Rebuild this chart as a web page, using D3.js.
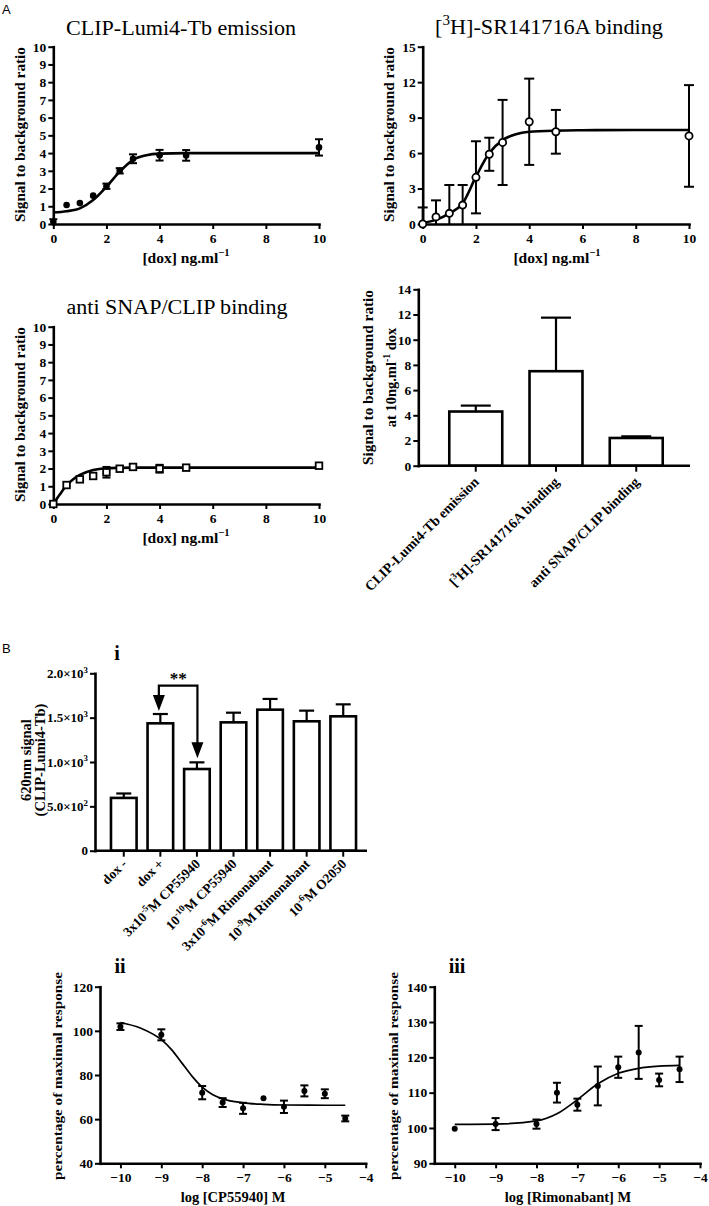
<!DOCTYPE html>
<html><head><meta charset="utf-8">
<script src="https://cdn.jsdelivr.net/npm/d3@7/dist/d3.min.js"></script>
<style>
body{margin:0;background:#fff}
svg{display:block}
</style>
</head><body>
<svg id="c" width="709" height="1206"></svg>
<script>
// ---------------- DATA ----------------
// Panel A: dose response to doxycycline (ng/ml)
const doseA = [0, 0.5, 1, 1.5, 2, 2.5, 3, 4, 5, 10];
const doseTicks = [0, 2, 4, 6, 8, 10];

const lumiVals = [0.12, 1.07, 1.18, 1.6, 2.13, 3.0, 3.68, 3.88, 3.87, 4.32];
const lumiErr  = [0.15, 0, 0, 0, 0.15, 0.15, 0.25, 0.3, 0.3, 0.46];
const lumiFitX = [0, 0.5, 1, 1.5, 2, 2.5, 3, 3.5, 4, 5, 6, 8, 10];
const lumiFitY = [0.65, 0.72, 0.88, 1.35, 2.1, 2.95, 3.62, 3.88, 3.97, 4.0, 4.0, 4.0, 4.0];
const lumiYTicks = [0,1,2,3,4,5,6,7,8,9,10];

const srVals = [0.0, 0.6, 0.9, 1.6, 3.95, 5.9, 6.9, 8.65, 7.8, 7.45];
const srErr  = [1.4, 1.4, 2.4, 1.7, 3.05, 1.4, 3.6, 3.65, 1.85, 4.3];
const srFitX = [0, 0.5, 1, 1.5, 2, 2.5, 3, 3.5, 4, 5, 6, 8, 10];
const srFitY = [0.1, 0.35, 0.9, 1.75, 4.0, 6.0, 7.1, 7.6, 7.8, 7.9, 7.93, 7.95, 7.95];
const srYTicks = [0, 3, 6, 9, 12, 15];

const abVals = [0.0, 1.07, 1.39, 1.58, 1.79, 1.99, 2.09, 1.99, 2.05, 2.16];
const abErr  = [0, 0, 0, 0, 0.3, 0, 0, 0.22, 0, 0];
const abFitX = [0, 0.25, 0.5, 0.75, 1, 1.5, 2, 2.5, 3, 5, 10];
const abFitY = [0, 0.55, 1.05, 1.4, 1.64, 1.92, 2.02, 2.04, 2.05, 2.05, 2.05];

const summaryCats = ["CLIP-Lumi4-Tb emission", "[^{3}H]-SR141716A binding", "anti SNAP/CLIP binding"];
const summaryVals = [4.3, 7.5, 2.2];
const summaryErr  = [0.47, 4.25, 0.13];
const summaryTicks = [0, 2, 4, 6, 8, 10, 12, 14];

// Panel B i
const biCats = ["dox -", "dox +", "3x10^{-5}M CP55940", "10^{-10}M CP55940", "3x10^{-6}M Rimonabant", "10^{-9}M Rimonabant", "10^{-6}M O2050"];
const biVals = [595, 1436, 921, 1447, 1590, 1459, 1515];
const biErr  = [50, 105, 75, 109, 121, 120, 135];
const biTicks = [0, 500, 1000, 1500, 2000];
const biTickLabels = ["0", "5.0×10^{2}", "1.0×10^{3}", "1.5×10^{3}", "2.0×10^{3}"];
const biSigLevel = 1860;

// Panel B ii
const logConc = [-10, -9, -8, -7.5, -7, -6.5, -6, -5.5, -5, -4.5];
const logTicks = [-10, -9, -8, -7, -6, -5, -4];
const cpVals = [101.9, 98.2, 72.0, 67.5, 64.9, 69.5, 65.6, 72.8, 71.5, 60.3];
const cpErr  = [1.5, 2.5, 3.0, 2.0, 2.5, 0, 2.8, 2.5, 2.0, 1.3];
const cpFitX = [-10, -9.5, -9, -8.75, -8.5, -8.25, -8, -7.75, -7.5, -7, -6.5, -6, -5, -4.5];
const cpFitY = [103.8, 101.2, 96.0, 91.5, 85.5, 79.5, 74.5, 71.2, 69.2, 67.4, 66.7, 66.4, 66.3, 66.3];
const cpYTicks = [40, 60, 80, 100, 120];

// Panel B iii
const rimVals = [99.8, 101.1, 101.1, 110.0, 106.6, 111.9, 117.2, 121.4, 113.6, 116.6];
const rimErr  = [0, 1.7, 1.3, 2.8, 1.7, 5.5, 3.0, 7.5, 1.8, 3.6];
const rimFitX = [-10, -9, -8, -7.5, -7, -6.5, -6, -5.5, -5, -4.5];
const rimFitY = [101.0, 101.1, 102.0, 104.0, 108.0, 112.5, 115.5, 116.9, 117.5, 117.7];
const rimYTicks = [90, 100, 110, 120, 130, 140];

// ---------------- DRAWING ----------------
const svg = d3.select('#c');
const SERIF = '"Liberation Serif","Times New Roman",Times,serif';
const SANS = '"Liberation Sans",Arial,sans-serif';

function rich(sel, str, fs) {
  sel.text(null);
  const parts = str.split(/(\^\{[^}]*\})/);
  let up = false;
  parts.forEach(p => {
    if (!p) return;
    if (p.startsWith('^{')) {
      sel.append('tspan').attr('font-size', fs * 0.68).attr('dy', -fs * 0.42).text(p.slice(2, -1));
      up = true;
    } else {
      const t = sel.append('tspan');
      if (up) { t.attr('dy', fs * 0.42); up = false; }
      t.text(p);
    }
  });
}

function styleAxis(g, fs) {
  g.attr('font-family', SERIF).attr('font-size', fs).attr('font-weight', 'bold');
  g.select('.domain').attr('stroke', '#000').attr('stroke-width', 2.6).attr('stroke-linecap', 'square');
  g.selectAll('.tick line').attr('stroke', '#000').attr('stroke-width', 2);
  g.selectAll('.tick text').attr('fill', '#000');
}

function addText(x, y, str, o) {
  const t = svg.append('text').attr('x', x).attr('y', y)
    .attr('font-family', o.family || SERIF)
    .attr('font-size', o.fs)
    .attr('font-weight', o.weight || 'normal')
    .attr('text-anchor', o.anchor || 'middle')
    .attr('fill', '#000');
  if (o.rotate) t.attr('transform', `rotate(${o.rotate},${x},${y})`);
  if (o.len) t.attr('textLength', o.len).attr('lengthAdjust', 'spacingAndGlyphs');
  rich(t, str, o.fs);
  return t;
}

const intFmt = d3.format('d');

function xyPanel(o) {
  const x = d3.scaleLinear().domain(o.xd).range(o.xr);
  const y = d3.scaleLinear().domain(o.yd).range(o.yr);
  const yc = y.copy().clamp(true);
  const g = svg.append('g');
  const ax = g.append('g').attr('transform', `translate(0,${o.yr[0]})`)
    .call(d3.axisBottom(x).tickValues(o.xt).tickFormat(intFmt).tickSize(5).tickPadding(o.xpad || 4).tickSizeOuter(0));
  styleAxis(ax, o.fs);
  const ay = g.append('g').attr('transform', `translate(${o.xr[0]},0)`)
    .call(d3.axisLeft(y).tickValues(o.yt).tickFormat(intFmt).tickSize(5).tickPadding(2).tickSizeOuter(0));
  styleAxis(ay, o.fs);

  // error bars
  const eg = g.append('g').attr('stroke', '#000').attr('stroke-width', o.ew || 2);
  o.xs.forEach((xv, i) => {
    const e = o.err[i];
    if (!e) return;
    const X = x(xv), v = o.ys[i];
    const top = yc(v + e), bot = yc(v - e);
    eg.append('line').attr('x1', X).attr('x2', X).attr('y1', top).attr('y2', bot);
    eg.append('line').attr('x1', X - o.cap / 2).attr('x2', X + o.cap / 2).attr('y1', top).attr('y2', top);
    if (v - e >= o.yd[0]) eg.append('line').attr('x1', X - o.cap / 2).attr('x2', X + o.cap / 2).attr('y1', bot).attr('y2', bot);
  });
  // fitted curve
  g.append('path').datum(d3.zip(o.fx, o.fy))
    .attr('d', d3.line().x(d => x(d[0])).y(d => y(d[1])).curve(d3.curveMonotoneX))
    .attr('fill', 'none').attr('stroke', '#000').attr('stroke-width', o.cw || 2.6);
  // markers
  const mg = g.append('g');
  o.xs.forEach((xv, i) => {
    const X = x(xv), Y = y(o.ys[i]);
    if (o.marker === 'filled') mg.append('circle').attr('cx', X).attr('cy', Y).attr('r', o.r).attr('fill', '#000');
    else if (o.marker === 'open') mg.append('circle').attr('cx', X).attr('cy', Y).attr('r', o.r).attr('fill', '#fff').attr('stroke', '#000').attr('stroke-width', 1.8);
    else mg.append('rect').attr('x', X - o.r).attr('y', Y - o.r).attr('width', o.r * 2).attr('height', o.r * 2).attr('fill', '#fff').attr('stroke', '#000').attr('stroke-width', 1.8);
  });
  return { x, y, ax, ay };
}

function barPanel(o) {
  const x = d3.scaleBand().domain(o.cats).range(o.xr).padding(o.pad);
  const y = d3.scaleLinear().domain(o.yd).range(o.yr);
  const g = svg.append('g');
  // bars
  o.vals.forEach((v, i) => {
    const c = o.cats[i];
    const X = x(c) + x.bandwidth() / 2;
    g.append('line').attr('x1', X).attr('x2', X).attr('y1', y(v)).attr('y2', y(v + o.err[i])).attr('stroke', '#000').attr('stroke-width', 2.2);
    g.append('line').attr('x1', X - o.cap / 2).attr('x2', X + o.cap / 2).attr('y1', y(v + o.err[i])).attr('y2', y(v + o.err[i])).attr('stroke', '#000').attr('stroke-width', 2.2);
    g.append('rect').attr('x', x(c)).attr('y', y(v)).attr('width', x.bandwidth()).attr('height', y(0) - y(v))
      .attr('fill', '#fff').attr('stroke', '#000').attr('stroke-width', 2.6);
  });
  const ay = g.append('g').attr('transform', `translate(${o.axisX},0)`)
    .call(d3.axisLeft(y).tickValues(o.yt).tickFormat(intFmt).tickSize(5).tickPadding(2).tickSizeOuter(0));
  styleAxis(ay, o.fs);
  if (o.ytl) ay.selectAll('.tick text').each(function (d, i) { rich(d3.select(this), o.ytl[i], o.fs); });
  // baseline + ticks
  g.append('line').attr('x1', o.axisX).attr('x2', o.xr[1]).attr('y1', y(0)).attr('y2', y(0)).attr('stroke', '#000').attr('stroke-width', 2.6);
  o.cats.forEach(c => {
    const X = x(c) + x.bandwidth() / 2;
    g.append('line').attr('x1', X).attr('x2', X).attr('y1', y(0)).attr('y2', y(0) + 6).attr('stroke', '#000').attr('stroke-width', 2);
    addText(X + 4, y(0) + o.lblOff, c, { fs: o.lfs, weight: 'bold', anchor: 'end', rotate: -45 });
  });
  return { x, y };
}

// Panel letters
addText(2, 14, 'A', { fs: 13, family: SANS, anchor: 'start' });
addText(2, 653, 'B', { fs: 13, family: SANS, anchor: 'start' });

// ---- A top-left
xyPanel({ xd: [0, 10], xr: [53.3, 319], yd: [0, 10], yr: [224, 46.7], xt: doseTicks, yt: lumiYTicks, fs: 13.5,
  xs: doseA, ys: lumiVals, err: lumiErr, fx: lumiFitX, fy: lumiFitY, marker: 'filled', r: 3.3, cap: 8 });
addText(181, 35, 'CLIP-Lumi4-Tb emission', { fs: 20.5, len: 230 });
addText(25, 134.5, 'Signal to background ratio', { fs: 14.5, weight: 'bold', rotate: -90, len: 175 });
addText(186, 263, '[dox] ng.ml^{−1}', { fs: 15.5, weight: 'bold' });

// ---- A top-right
xyPanel({ xd: [0, 10], xr: [422.7, 689], yd: [0, 15], yr: [224, 46.7], xt: doseTicks, yt: srYTicks, fs: 13.5,
  xs: doseA, ys: srVals, err: srErr, fx: srFitX, fy: srFitY, marker: 'open', r: 3.6, cap: 10 });
addText(549, 34, '[^{3}H]-SR141716A binding', { fs: 20.5, len: 228 });
addText(394, 134.5, 'Signal to background ratio', { fs: 14.5, weight: 'bold', rotate: -90, len: 175 });
addText(557, 263, '[dox] ng.ml^{−1}', { fs: 15.5, weight: 'bold' });

// ---- A bottom-left
xyPanel({ xd: [0, 10], xr: [53.3, 319], yd: [0, 10], yr: [504, 326.7], xt: doseTicks, yt: lumiYTicks, fs: 13.5,
  xs: doseA, ys: abVals, err: abErr, fx: abFitX, fy: abFitY, marker: 'square', r: 3.3, cap: 8 });
addText(177, 314, 'anti SNAP/CLIP binding', { fs: 20.5, len: 221 });
addText(25, 414.5, 'Signal to background ratio', { fs: 14.5, weight: 'bold', rotate: -90, len: 175 });
addText(186, 543, '[dox] ng.ml^{−1}', { fs: 15.5, weight: 'bold' });

// ---- A bottom-right (bars)
barPanel({ cats: summaryCats, vals: summaryVals, err: summaryErr, xr: [422, 690], pad: 0.34, axisX: 418.3,
  yd: [0, 14], yr: [465.7, 289.3], yt: summaryTicks, fs: 13.5, cap: 30, lfs: 14, lblOff: 17 });
addText(373, 377.5, 'Signal to background ratio', { fs: 14.5, weight: 'bold', rotate: -90, len: 175 });
addText(396, 377.5, 'at 10ng.ml^{-1} dox', { fs: 14.5, weight: 'bold', rotate: -90 });

// ---- B i (bars)
const bi = barPanel({ cats: biCats, vals: biVals, err: biErr, xr: [100, 367], pad: 0.3, axisX: 95,
  yd: [0, 2000], yr: [850.7, 673.3], yt: biTicks, ytl: biTickLabels, fs: 13, cap: 15, lfs: 13.5, lblOff: 14 });
addText(117, 660, 'i', { fs: 20, weight: 'bold' });
addText(31, 760, '620nm signal', { fs: 14.5, weight: 'bold', rotate: -90 });
addText(45, 760, '(CLIP-Lumi4-Tb)', { fs: 14.5, weight: 'bold', rotate: -90 });
// significance bracket with arrows
(function () {
  const x = bi.x, y = bi.y;
  const xa = x(biCats[1]) + x.bandwidth() / 2 - 1.5;
  const xb = x(biCats[2]) + x.bandwidth() / 2 + 0.5;
  const ta = y(biVals[1] + biErr[1]) - 3;
  const tb = y(biVals[2] + biErr[2]) - 4;
  const top = y(biSigLevel);
  const g = svg.append('g');
  g.append('path').attr('d', `M${xa},${ta - 13}V${top}H${xb}V${tb - 13}`).attr('fill', 'none').attr('stroke', '#000').attr('stroke-width', 2.2);
  [[xa, ta], [xb, tb]].forEach(([X, T]) => {
    g.append('path').attr('d', `M${X - 6},${T - 16}L${X + 6},${T - 16}L${X},${T}Z`).attr('fill', '#000');
  });
  addText((xa + xb) / 2, top - 2, '**', { fs: 17, weight: 'bold' });
})();

// ---- B ii
xyPanel({ xd: [-10.5, -4], xr: [100, 365.7], yd: [40, 120], yr: [1163.3, 986.7], xt: logTicks, yt: cpYTicks, fs: 13.5, xpad: 4,
  xs: logConc, ys: cpVals, err: cpErr, fx: cpFitX, fy: cpFitY, marker: 'filled', r: 3, cap: 8, cw: 1.7 });
addText(120, 973, 'ii', { fs: 20, weight: 'bold' });
addText(62, 1076, 'percentage of maximal response', { fs: 13.5, weight: 'bold', rotate: -90, len: 208 });
addText(233, 1202, 'log [CP55940] M', { fs: 14.5, weight: 'bold' });

// ---- B iii
xyPanel({ xd: [-10.5, -4], xr: [434.3, 700], yd: [90, 140], yr: [1163.3, 986.7], xt: logTicks, yt: rimYTicks, fs: 13.5, xpad: 4,
  xs: logConc, ys: rimVals, err: rimErr, fx: rimFitX, fy: rimFitY, marker: 'filled', r: 3, cap: 8, cw: 1.7 });
addText(457, 973, 'iii', { fs: 20, weight: 'bold' });
addText(398, 1076, 'percentage of maximal response', { fs: 13.5, weight: 'bold', rotate: -90, len: 208 });
addText(568, 1202, 'log [Rimonabant] M', { fs: 14.5, weight: 'bold' });
</script>
</body></html>
